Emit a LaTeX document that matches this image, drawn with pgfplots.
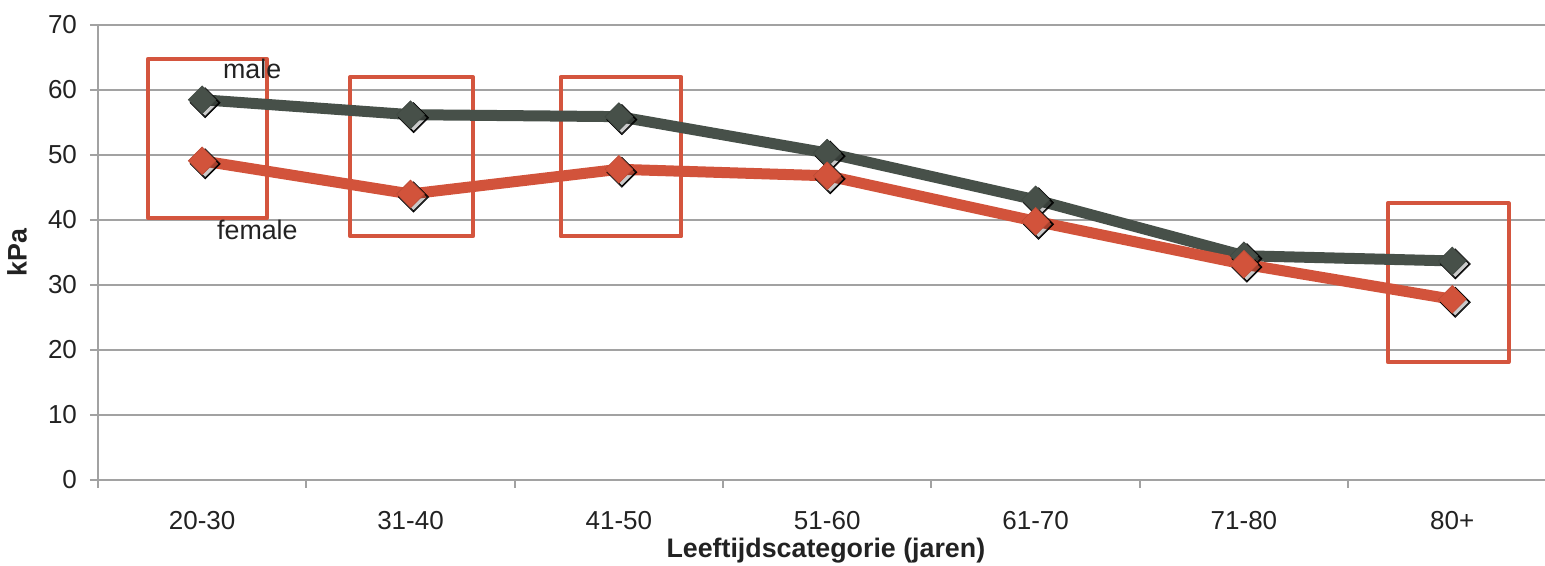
\documentclass[border=0pt]{standalone}
\usepackage{pgfplots}
\pgfplotsset{compat=1.18}
\usepackage{fontspec}
\setmainfont{Liberation Sans}

\definecolor{maleline}{HTML}{475049}
\definecolor{femaleline}{HTML}{D2533B}
\definecolor{boxred}{HTML}{D4553E}
\definecolor{gridgray}{HTML}{A2A2A2}
\definecolor{txt}{HTML}{222222}

\pgfplotstableread{
x male female
0 58.5 49.1
1 56.2 44.0
2 55.9 47.8
3 50.3 46.8
4 43.1 39.8
5 34.5 33.2
6 33.7 27.8
}\kpadata

\pgfplotsset{
  shadowmark/.style 2 args={only marks, mark=square*, mark size=#1,
    mark options={draw=none, fill=black, fill opacity=#2,
      xshift=1.5pt, yshift=-1.5pt, rotate=45}},
}

\begin{document}
\begin{tikzpicture}
\begin{axis}[
  scale only axis,
  width=723.5pt, height=227.5pt,
  xmin=-0.5, xmax=6.445,
  ymin=0, ymax=70,
  ytick={0,10,...,70},
  xtick={0,...,6},
  xticklabels={20-30,31-40,41-50,51-60,61-70,71-80,80+},
  minor xtick={-0.5,0.5,...,6.5},
  axis lines=left,
  axis line style={-, draw=gridgray, line width=1pt},
  ymajorgrids,
  grid style={draw=gridgray, line width=1pt},
  tick align=outside,
  major tick length=4pt,
  minor tick length=4pt,
  major x tick style={draw=none},
  minor x tick style={draw=gridgray, line width=1pt},
  y tick style={draw=gridgray, line width=1pt},
  tick label style={font=\fontsize{13}{15}\selectfont, text=txt},
  /pgf/number format/assume math mode=true,
  yticklabel style={xshift=-3pt},
  xticklabel style={yshift=-8pt},
  xlabel={\textbf{Leeftijdscategorie (jaren)}},
  ylabel={\textbf{kPa}},
  label style={font=\fontsize{13.4}{15}\selectfont, text=txt},
  xlabel style={at={(axis description cs:0.503,-0.156)}, anchor=center},
  ylabel style={at={(axis description cs:-0.056,0.5)}, anchor=center},
  clip=false,
]
% annotation frames around selected age groups
\addplot[boxred, line width=2pt, line join=round, no markers]
  coordinates {(-0.26,40.3) (0.31,40.3) (0.31,64.8) (-0.26,64.8)} -- cycle;
\addplot[boxred, line width=2pt, line join=round, no markers]
  coordinates {(0.71,37.5) (1.30,37.5) (1.30,62.0) (0.71,62.0)} -- cycle;
\addplot[boxred, line width=2pt, line join=round, no markers]
  coordinates {(1.72,37.5) (2.30,37.5) (2.30,62.0) (1.72,62.0)} -- cycle;
\addplot[boxred, line width=2pt, line join=round, no markers]
  coordinates {(5.69,18.15) (6.27,18.15) (6.27,42.6) (5.69,42.6)} -- cycle;

% lines
\addplot[maleline, line width=5.5pt, line join=round, no markers] table[x=x, y=male] {\kpadata};
\addplot[femaleline, line width=5.5pt, line join=round, no markers] table[x=x, y=female] {\kpadata};

% soft marker shadows
\addplot[shadowmark={5.3pt}{0.08}] table[x=x, y=male] {\kpadata};
\addplot[shadowmark={4.9pt}{0.14}] table[x=x, y=male] {\kpadata};
\addplot[shadowmark={5.3pt}{0.08}] table[x=x, y=female] {\kpadata};
\addplot[shadowmark={4.9pt}{0.14}] table[x=x, y=female] {\kpadata};

% markers
\addplot[only marks, mark=square*, mark size=4.9pt,
  mark options={draw=maleline!90!black, line width=0.3pt, fill=maleline, rotate=45}]
  table[x=x, y=male] {\kpadata};
\addplot[only marks, mark=square*, mark size=4.9pt,
  mark options={draw=femaleline!90!black, line width=0.3pt, fill=femaleline, rotate=45}]
  table[x=x, y=female] {\kpadata};

\node[font=\fontsize{13.4}{15}\selectfont, text=txt] at (axis cs:0.24,63.2) {male};
\node[font=\fontsize{13.4}{15}\selectfont, text=txt] at (axis cs:0.265,38.5) {female};
\end{axis}
\pgfresetboundingbox
\useasboundingbox ([xshift=-49pt, yshift=-43pt]current axis.south west)
  rectangle ([yshift=12.5pt]current axis.north east);
\end{tikzpicture}
\end{document}
